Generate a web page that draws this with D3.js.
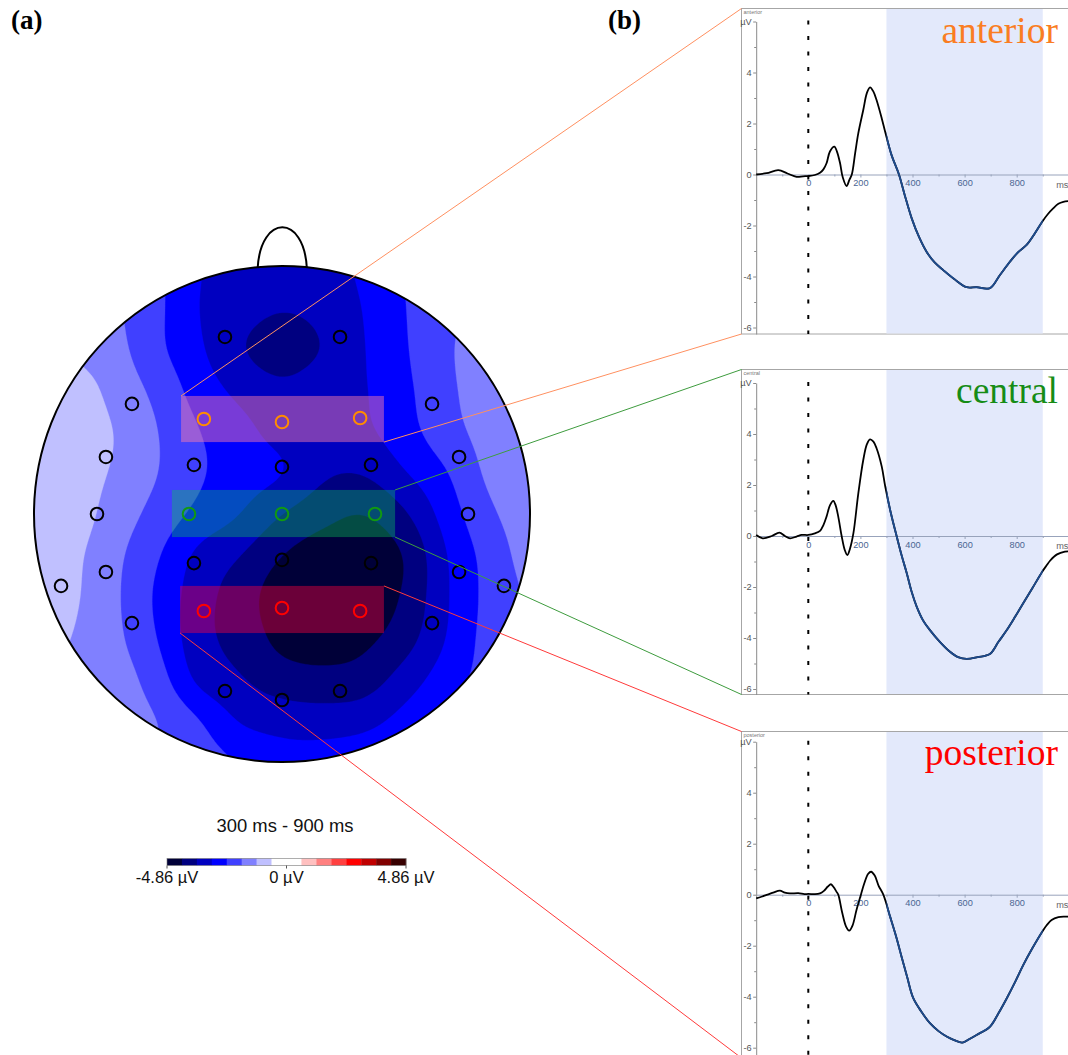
<!DOCTYPE html>
<html><head><meta charset="utf-8">
<script src="https://cdn.jsdelivr.net/npm/d3@7"></script>
<style>body{margin:0;background:#fff}svg{display:block}</style>
</head><body>
<svg id="chart" width="1068" height="1055"></svg>
<script>
// ================= DATA =================
const erpXTicks = [0, 200, 400, 600, 800];
const erpXMinorTicks = [-100, 100, 300, 500, 700, 900];
const erpYTicks = [-6, -4, -2, 0, 2, 4];
const erpYMinorTicks = [-5, -3, -1, 1, 3, 5];
const analysisWindow = [300, 900];

const anteriorERP = [
 [-200,0.0],[-160,0.05],[-115,0.17],[-80,0.04],[-45,-0.09],[-20,-0.07],[0,-0.06],[25,-0.02],[45,0.07],[58,0.2],[70,0.44],[83,0.9],[100,1.09],[110,0.9],[122,0.44],[132,-0.1],[147,-0.45],[158,-0.2],[167,0.0],[180,0.85],[192,1.62],[211,2.53],[225,3.2],[237,3.42],[250,3.25],[262,2.92],[282,2.2],[295,1.68],[320,0.75],[348,0.0],[370,-0.8],[397,-1.72],[425,-2.45],[454,-3.03],[485,-3.45],[518,-3.75],[560,-4.1],[608,-4.42],[646,-4.42],[697,-4.46],[735,-3.95],[774,-3.42],[805,-3.05],[838,-2.76],[870,-2.3],[898,-1.85],[920,-1.55],[940,-1.33],[960,-1.15],[979,-1.07],[1000,-1.04]
];
const centralERP = [
 [-200,0.04],[-175,-0.09],[-140,0.0],[-111,0.13],[-90,0.0],[-70,-0.09],[-45,-0.02],[-25,0.04],[0,0.04],[25,0.1],[45,0.2],[58,0.43],[70,0.76],[83,1.2],[96,1.38],[105,1.2],[115,0.76],[128,0.0],[140,-0.55],[150,-0.75],[160,-0.5],[173,0.1],[192,1.67],[211,2.98],[225,3.6],[237,3.79],[250,3.7],[262,3.44],[282,2.72],[295,1.96],[318,0.85],[339,0.0],[358,-0.75],[378,-1.46],[397,-2.2],[416,-2.77],[440,-3.3],[467,-3.69],[505,-4.15],[544,-4.54],[575,-4.75],[608,-4.82],[650,-4.75],[697,-4.63],[730,-4.15],[762,-3.69],[795,-3.15],[825,-2.64],[860,-2.05],[898,-1.4],[915,-1.15],[928,-0.97],[955,-0.72],[985,-0.61],[1000,-0.6]
];
const posteriorERP = [
 [-200,-0.14],[-180,-0.08],[-160,-0.01],[-135,0.08],[-109,0.16],[-90,0.08],[-70,0.05],[-38,0.06],[-15,0.02],[0,0.03],[25,0.02],[45,0.05],[60,0.15],[75,0.32],[87,0.41],[97,0.3],[108,0.12],[115,0.0],[130,-0.7],[145,-1.25],[157,-1.41],[170,-1.2],[185,-0.6],[202,0.0],[215,0.45],[230,0.82],[241,0.9],[255,0.75],[270,0.35],[288,0.0],[314,-0.86],[336,-1.6],[358,-2.43],[380,-3.25],[403,-4.06],[435,-4.6],[467,-5.04],[500,-5.35],[531,-5.56],[560,-5.7],[591,-5.8],[615,-5.68],[646,-5.5],[697,-5.18],[730,-4.65],[762,-4.06],[795,-3.4],[825,-2.76],[860,-2.1],[898,-1.45],[915,-1.2],[934,-0.99],[960,-0.88],[985,-0.86],[1000,-0.86]
];

const regionNames = ['anterior', 'central', 'posterior'];
const regionColors = ['#fa7d22', '#168c16', '#ff0000'];
const electrodeColors = {a: '#ff8c00', c: '#119a11', p: '#ff0000', n: '#000000'};
const lineColors = ['#ff9060', '#3e9c3e', '#ff3a3a'];

// colour scale of the map (µV)
const colorbarRange = [-4.86, 4.86];
const colorbarColors = ['#000038','#000080','#0000c0','#0000ff','#4040ff','#8080ff','#c0c0ff','#ffffff',
                        '#ffffff','#ffc0c0','#ff8080','#ff4040','#ff0000','#c00000','#800000','#380000'];
const colorbarTickValues = [-4.86, 0, 4.86];
const colorbarLabels = ['-4.86 µV', '0 µV', '4.86 µV'];
const topoTitle = '300 ms - 900 ms';

// mean amplitude (µV) read on a 13 x 13 grid over the head square (rows top -> bottom)
const topoGrid = [
 [-1.0,-1.3,-1.8,-2.3,-3.0,-3.35,-3.4,-3.3,-2.9,-2.4,-1.9,-1.5,-1.2],
 [-0.9,-1.2,-1.75,-2.3,-3.05,-3.4,-3.6,-3.45,-3.0,-2.43,-1.95,-1.6,-1.3],
 [-0.8,-1.3,-1.65,-2.3,-2.95,-3.6,-3.95,-3.62,-3.05,-2.47,-1.9,-1.5,-1.3],
 [-0.7,-0.9,-1.45,-2.0,-2.7,-3.2,-3.5,-3.3,-3.08,-2.55,-1.95,-1.5,-1.2],
 [-0.65,-0.85,-1.25,-1.82,-2.42,-2.85,-3.25,-3.35,-3.15,-2.65,-2.05,-1.6,-1.3],
 [-0.65,-0.95,-1.3,-1.82,-2.35,-2.75,-3.0,-3.55,-3.6,-3.05,-2.45,-1.7,-1.3],
 [-0.7,-0.95,-1.5,-2.05,-2.6,-3.04,-3.64,-4.05,-4.25,-3.7,-2.75,-1.95,-1.5],
 [-0.72,-1.1,-1.7,-2.38,-3.2,-3.64,-4.25,-4.6,-4.7,-4.2,-3.03,-2.2,-1.6],
 [-0.8,-1.15,-1.75,-2.55,-3.4,-3.95,-4.6,-4.8,-4.65,-4.15,-3.08,-2.25,-1.75],
 [-1.0,-1.25,-1.7,-2.45,-3.45,-3.85,-4.45,-4.6,-4.4,-3.9,-3.0,-2.2,-1.7],
 [-1.2,-1.35,-1.55,-2.15,-3.2,-3.6,-3.95,-4.05,-3.95,-3.35,-2.7,-2.2,-1.9],
 [-1.35,-1.45,-1.55,-1.82,-2.4,-3.1,-3.3,-3.35,-3.25,-2.8,-2.35,-2.0,-1.8],
 [-1.5,-1.6,-1.7,-1.85,-2.15,-2.45,-2.75,-2.75,-2.6,-2.35,-2.1,-1.9,-1.7]
];

// electrode positions in head units (x right, y front), group: a/c/p = ROI, n = none
const electrodeX = [-0.230,0.234,-0.605,-0.315,0,0.315,0.605,-0.710,-0.355,0,0.359,0.714,-0.746,-0.375,0,0.375,0.750,-0.710,-0.355,0,0.359,0.714,-0.891,0.895,-0.315,0,0.315,-0.605,0.605,-0.230,0,0.234];
const electrodeY = [0.714,0.714,0.444,0.383,0.371,0.387,0.444,0.230,0.198,0.190,0.198,0.230,0,0,0,0,0,-0.234,-0.198,-0.185,-0.198,-0.234,-0.290,-0.290,-0.391,-0.379,-0.391,-0.440,-0.440,-0.714,-0.750,-0.714];
const electrodeGroup = ['n','n','n','a','a','a','n','n','n','n','n','n','n','c','c','c','n','n','n','n','n','n','n','n','p','p','p','n','n','n','n','n'];

// ROI boxes in head units [x0, x1, yTop, yBottom]
const roiBoxes = [[-0.407,0.411,0.476,0.290],[-0.444,0.456,0.097,-0.093],[-0.411,0.411,-0.290,-0.480]];

// ================= LAYOUT =================
const svg = d3.select('#chart');
const head = {cx: 282, cy: 514, r: 248};
const hx = d3.scaleLinear().domain([-1, 1]).range([head.cx - head.r, head.cx + head.r]);
const hy = d3.scaleLinear().domain([-1, 1]).range([head.cy + head.r, head.cy - head.r]);
const sans = "'Liberation Sans', Arial, sans-serif";
const serif = "'Liberation Serif', 'Times New Roman', serif";

svg.append('text').attr('x', 11).attr('y', 29).text('(a)')
  .attr('font-family', serif).attr('font-weight', 'bold').attr('font-size', 27);
svg.append('text').attr('x', 608).attr('y', 29).text('(b)')
  .attr('font-family', serif).attr('font-weight', 'bold').attr('font-size', 27);

// ================= TOPOGRAPHY =================
const defs = svg.append('defs');
defs.append('clipPath').attr('id', 'headClip').append('circle')
  .attr('cx', hx(0)).attr('cy', hy(0)).attr('r', hx(1) - hx(0));

const n = topoGrid.length, f = 16, N = (n - 1) * f + 1;
let fine = new Float64Array(N * N);
const cr = (p0, p1, p2, p3, t) => 0.5 * ((2 * p1) + (-p0 + p2) * t + (2 * p0 - 5 * p1 + 4 * p2 - p3) * t * t + (-p0 + 3 * p1 - 3 * p2 + p3) * t * t * t);
const gv = (r, c) => topoGrid[Math.max(0, Math.min(n - 1, r))][Math.max(0, Math.min(n - 1, c))];
for (let Y = 0; Y < N; Y++) {
  const r = Math.min(Math.floor(Y / f), n - 2), ty = Y / f - r;
  for (let X = 0; X < N; X++) {
    const c = Math.min(Math.floor(X / f), n - 2), tx = X / f - c;
    const rows = [-1, 0, 1, 2].map(dr => cr(gv(r + dr, c - 1), gv(r + dr, c), gv(r + dr, c + 1), gv(r + dr, c + 2), tx));
    fine[Y * N + X] = cr(rows[0], rows[1], rows[2], rows[3], ty);
  }
}
// light gaussian smoothing of the rendered surface
(function smooth(sigma) {
  const R = Math.ceil(sigma * 3);
  const w = d3.range(-R, R + 1).map(k => Math.exp(-k * k / (2 * sigma * sigma)));
  const ws = d3.sum(w);
  const tmp = new Float64Array(N * N);
  for (let Y = 0; Y < N; Y++) for (let X = 0; X < N; X++) {
    let s = 0;
    for (let k = -R; k <= R; k++) s += w[k + R] * fine[Y * N + Math.max(0, Math.min(N - 1, X + k))];
    tmp[Y * N + X] = s / ws;
  }
  for (let Y = 0; Y < N; Y++) for (let X = 0; X < N; X++) {
    let s = 0;
    for (let k = -R; k <= R; k++) s += w[k + R] * tmp[Math.max(0, Math.min(N - 1, Y + k)) * N + X];
    fine[Y * N + X] = s / ws;
  }
})(3);

const step = (colorbarRange[1] - colorbarRange[0]) / colorbarColors.length;
const thresholds = d3.range(1, colorbarColors.length).map(k => colorbarRange[0] + k * step);
const colorScale = d3.scaleThreshold().domain(thresholds).range(colorbarColors);
const contours = d3.contours().size([N, N]).thresholds(thresholds)(fine);
const gx = d3.scaleLinear().domain([0.5, N - 0.5]).range([hx(-1), hx(1)]);
const gy = d3.scaleLinear().domain([0.5, N - 0.5]).range([hy(1), hy(-1)]);
const gridPath = d3.geoPath(d3.geoTransform({point(x, y) { this.stream.point(gx(x), gy(y)); }}));

const topo = svg.append('g').attr('clip-path', 'url(#headClip)');
topo.append('rect').attr('x', hx(-1) - 5).attr('y', hy(1) - 5).attr('width', hx(1) - hx(-1) + 10).attr('height', hy(-1) - hy(1) + 10)
  .attr('fill', colorbarColors[0]);
topo.selectAll('path.band').data(contours).join('path').attr('class', 'band')
  .attr('d', gridPath).attr('fill', d => colorScale(d.value)).attr('stroke', d => colorScale(d.value)).attr('stroke-width', 0.3);

// ROI boxes
const roiFills = ['rgba(255,125,170,0.47)', 'rgba(10,200,90,0.38)', 'rgba(255,0,60,0.42)'];
svg.selectAll('rect.roi').data(roiBoxes).join('rect').attr('class', 'roi')
  .attr('x', d => hx(d[0])).attr('y', d => hy(d[2]))
  .attr('width', d => hx(d[1]) - hx(d[0])).attr('height', d => hy(d[3]) - hy(d[2]))
  .attr('fill', (d, i) => roiFills[i]);

// electrodes
svg.selectAll('circle.el').data(electrodeX.map((x, i) => ({x, y: electrodeY[i], g: electrodeGroup[i]})))
  .join('circle').attr('class', 'el')
  .attr('cx', d => hx(d.x)).attr('cy', d => hy(d.y)).attr('r', 6.3)
  .attr('fill', 'none').attr('stroke', d => electrodeColors[d.g]).attr('stroke-width', 2);

// head outline and nose
svg.append('circle').attr('cx', hx(0)).attr('cy', hy(0)).attr('r', hx(1) - hx(0))
  .attr('fill', 'none').attr('stroke', '#000').attr('stroke-width', 2);
const nose = d3.path();
nose.moveTo(hx(-0.098), hy(0.993));
nose.bezierCurveTo(hx(-0.085), hy(1.21), hx(0.088), hy(1.21), hx(0.1), hy(0.993));
svg.append('path').attr('d', nose.toString()).attr('fill', 'none').attr('stroke', '#000').attr('stroke-width', 2);

// title and colour bar
svg.append('text').attr('x', 285).attr('y', 832).attr('text-anchor', 'middle').text(topoTitle)
  .attr('font-family', sans).attr('font-size', 18.4).attr('fill', '#111');
const cb = {x0: 167, x1: 406, y: 858.5, h: 7};
const cbBand = d3.scaleBand().domain(d3.range(colorbarColors.length)).range([cb.x0, cb.x1]);
const cbLin = d3.scaleLinear().domain(colorbarRange).range([cb.x0, cb.x1]);
svg.selectAll('rect.cb').data(colorbarColors).join('rect').attr('class', 'cb')
  .attr('x', (d, i) => cbBand(i)).attr('y', cb.y).attr('width', cbBand.bandwidth() + 0.3).attr('height', cb.h)
  .attr('fill', d => d);
svg.append('rect').attr('x', cb.x0).attr('y', cb.y).attr('width', cb.x1 - cb.x0).attr('height', cb.h)
  .attr('fill', 'none').attr('stroke', '#777').attr('stroke-width', 0.6);
svg.selectAll('line.cbt').data(colorbarTickValues).join('line').attr('class', 'cbt')
  .attr('x1', d => cbLin(d)).attr('x2', d => cbLin(d)).attr('y1', cb.y + cb.h).attr('y2', cb.y + cb.h + 3)
  .attr('stroke', '#555').attr('stroke-width', 1);
svg.selectAll('text.cbl').data(colorbarTickValues).join('text').attr('class', 'cbl')
  .attr('x', d => cbLin(d)).attr('y', 883).attr('text-anchor', 'middle')
  .text((d, i) => colorbarLabels[i]).attr('font-family', sans).attr('font-size', 16.5).attr('fill', '#111');

// ================= ERP PANELS =================
const frameX = 741.5;
const pxPerUv = 25.5;
const x = d3.scaleLinear().domain([-200, 1000]).range([756.2, 1068.8]);
const panels = [
  {data: anteriorERP, top: 8.5, zero: 174.5, bottom: 334, titleY: 42.5},
  {data: centralERP, top: 369.5, zero: 536, bottom: 694.5, titleY: 402.5},
  {data: posteriorERP, top: 731.5, zero: 894.7, bottom: 1058, titleY: 765}
];

panels.forEach((p, i) => {
  const g = svg.append('g');
  const yMin = -(p.bottom - p.zero) / pxPerUv;
  const y = d3.scaleLinear().domain([yMin, 6]).range([p.bottom, p.zero - 6 * pxPerUv]);
  g.append('rect').attr('x', frameX).attr('y', p.top).attr('width', 420).attr('height', p.bottom - p.top)
    .attr('fill', '#fff').attr('stroke', '#a6a6a6').attr('stroke-width', 1);
  g.append('rect').attr('x', x(analysisWindow[0])).attr('y', p.top + 0.5)
    .attr('width', x(analysisWindow[1]) - x(analysisWindow[0])).attr('height', p.bottom - p.top - 1)
    .attr('fill', '#e3e9fb');
  g.append('text').attr('x', 1058).attr('y', p.titleY).attr('text-anchor', 'end').text(regionNames[i])
    .attr('font-family', serif).attr('font-size', 37.5).attr('fill', regionColors[i]);
  g.append('text').attr('x', 743.5).attr('y', p.top + 5.5).text(regionNames[i])
    .attr('font-family', sans).attr('font-size', 5.5).attr('fill', '#777');
  const xAxis = g.append('g').attr('transform', `translate(0,${y(0)})`)
    .call(d3.axisBottom(x).tickValues(erpXTicks).tickSize(3).tickSizeOuter(0).tickPadding(2));
  xAxis.select('.domain').attr('stroke', '#98a3bb');
  xAxis.selectAll('.tick line').attr('stroke', '#98a3bb');
  xAxis.selectAll('.tick text').attr('font-family', sans).attr('font-size', 9.2).attr('fill', '#4a6592');
  const xMinor = g.append('g').attr('transform', `translate(0,${y(0)})`)
    .call(d3.axisBottom(x).tickValues(erpXMinorTicks).tickSize(2).tickFormat(''));
  xMinor.select('.domain').remove();
  xMinor.selectAll('.tick line').attr('stroke', '#98a3bb');
  g.append('text').attr('x', x(975)).attr('y', y(0) + 13).attr('text-anchor', 'middle').text('ms')
    .attr('font-family', sans).attr('font-size', 9.2).attr('fill', '#666');
  const yAxis = g.append('g').attr('transform', `translate(${x(-200)},0)`)
    .call(d3.axisLeft(y).tickValues(erpYTicks.concat([6])).tickSize(3).tickSizeOuter(0).tickPadding(1.5)
      .tickFormat(d => d === 6 ? 'µV' : d3.format('d')(d).replace('−', '-')));
  yAxis.select('.domain').attr('stroke', '#8a8a8a');
  yAxis.selectAll('.tick line').attr('stroke', '#8a8a8a');
  yAxis.selectAll('.tick text').attr('font-family', sans).attr('font-size', 9.2).attr('fill', '#555');
  const yMinor = g.append('g').attr('transform', `translate(${x(-200)},0)`)
    .call(d3.axisLeft(y).tickValues(erpYMinorTicks).tickSize(2).tickFormat(''));
  yMinor.select('.domain').remove();
  yMinor.selectAll('.tick line').attr('stroke', '#8a8a8a');
  g.append('line').attr('x1', x(0)).attr('x2', x(0)).attr('y1', y(6) - 1).attr('y2', p.bottom)
    .attr('stroke', '#000').attr('stroke-width', 2).attr('stroke-dasharray', '4,11.5');
  const line = d3.line().x(d => x(d[0])).y(d => y(d[1])).curve(d3.curveCatmullRom.alpha(0.5));
  g.append('path').datum(p.data).attr('d', line).attr('fill', 'none').attr('stroke', '#000').attr('stroke-width', 1.8);
  const cid = 'win' + i;
  defs.append('clipPath').attr('id', cid).append('rect')
    .attr('x', x(analysisWindow[0])).attr('y', p.top).attr('width', x(analysisWindow[1]) - x(analysisWindow[0]))
    .attr('height', p.bottom - p.top);
  g.append('path').datum(p.data).attr('d', line).attr('fill', 'none').attr('stroke', '#1d4a8c')
    .attr('stroke-width', 1.9).attr('clip-path', `url(#${cid})`);
});

// ================= CONNECTORS =================
const connectors = [
  [[hx(roiBoxes[0][0]), hy(roiBoxes[0][2])], [frameX, panels[0].top]],
  [[hx(roiBoxes[0][1]), hy(roiBoxes[0][3])], [frameX, panels[0].bottom]],
  [[hx(roiBoxes[1][1]), hy(roiBoxes[1][2])], [frameX, panels[1].top]],
  [[hx(roiBoxes[1][1]), hy(roiBoxes[1][3])], [frameX, panels[1].bottom]],
  [[hx(roiBoxes[2][1]), hy(roiBoxes[2][2])], [frameX, panels[2].top]],
  [[hx(roiBoxes[2][0]), hy(roiBoxes[2][3])], [frameX, panels[2].bottom]]
];
svg.selectAll('line.conn').data(connectors).join('line').attr('class', 'conn')
  .attr('x1', d => d[0][0]).attr('y1', d => d[0][1]).attr('x2', d => d[1][0]).attr('y2', d => d[1][1])
  .attr('stroke', (d, i) => lineColors[Math.floor(i / 2)]).attr('stroke-width', 1);
</script>
</body></html>
